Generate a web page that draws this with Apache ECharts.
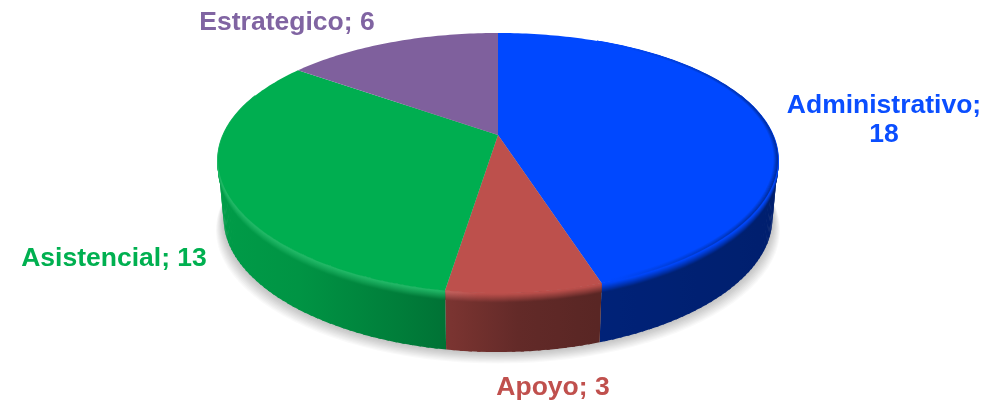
<!DOCTYPE html>
<html><head><meta charset="utf-8">
<script src="https://cdn.jsdelivr.net/npm/echarts@6/dist/echarts.min.js"></script>
<style>html,body{margin:0;padding:0;background:#fff}#c{width:996px;height:401px}</style>
</head><body><div id="c"></div>
<script>
const categories = ['Administrativo', 'Apoyo', 'Asistencial', 'Estrategico'];
const values = [18, 3, 13, 6];
const colors = ['#0048ff', '#bd504c', '#00ae50', '#7f609d'];
const labelColors = ['#0a4eff', '#c0504d', '#00b050', '#8064a2'];
const labelLines = [['Administrativo;', '18'], ['Apoyo; 3'], ['Asistencial; 13'], ['Estrategico; 6']];
const labelAnchors = [[884, 120], [553, 388], [114, 259], [287, 23]];

// projection of the tilted disc
const CX = 498, APEX_Y = 135, BX = 274.9, AY = 124, KX = 0.19, KY = 0.2154, DEPTH = 59, NARROW = 0.02, BEVEL = 9;
const XL = 218, XR = 778;
const shadeStops = [[218,.9],[300,.85],[445,.66],[520,.52],[600,.47],[778,.43]];
const total = values.reduce((a, b) => a + b, 0);
const D = Math.PI / 180;
const LG = echarts.graphic.LinearGradient;

function rim(aDeg, r, h) {
  const u = Math.sin(aDeg * D) * r, v = Math.cos(aDeg * D) * r;
  const x = CX + BX * u / (1 + KX * v), y = APEX_Y - AY * v / (1 + KY * v);
  return [CX + (x - CX) * (1 - NARROW * h), y + DEPTH * h];
}
function span(i) {
  let s = 0; for (let j = 0; j < i; j++) s += values[j];
  return [s / total * 360, (s + values[i]) / total * 360];
}
function rgb(hex) { return [1, 3, 5].map(p => parseInt(hex.substr(p, 2), 16)); }
function css(c) { return 'rgb(' + c.map(v => Math.max(0, Math.min(255, Math.round(v)))).join(',') + ')'; }
function mix(a, b, t) { return a.map((v, i) => v + (b[i] - v) * t); }
function shadeAt(x) {
  for (let i = 1; i < shadeStops.length; i++) {
    if (x <= shadeStops[i][0]) {
      const p = shadeStops[i - 1], q = shadeStops[i];
      return p[1] + (q[1] - p[1]) * Math.max(0, (x - p[0])) / (q[0] - p[0]);
    }
  }
  return shadeStops[shadeStops.length - 1][1];
}
function steps(a0, a1, d) {
  const n = Math.max(1, Math.ceil((a1 - a0) / d)), out = [];
  for (let i = 0; i <= n; i++) out.push(a0 + (a1 - a0) * i / n);
  return out;
}
// horizontal gradient whose colour is a function of screen x
function xGradient(fn) {
  const stops = [];
  for (let n = 0; n <= 28; n++) {
    const x = XL + (XR - XL) * n / 28;
    stops.push({ offset: n / 28, color: css(fn(x)) });
  }
  return new LG(XL, 0, XR, 0, stops, true);
}
// the wall swept along the rim as overlapping quads, so it never folds at the silhouette
function sweep(kids, a0, a1, h0, h1, fill) {
  const sts = steps(a0, a1, 1.5);
  for (let s = 0; s < sts.length - 1; s++) {
    const a = sts[s], b = Math.min(a1, sts[s + 1] + 0.6);
    kids.push({ type: 'polygon', shape: { points: [rim(a, 1, h0), rim(b, 1, h0), rim(b, 1, h1), rim(a, 1, h1)] },
      style: { fill: fill }, silent: true });
  }
}
function rimLine(a0, a1, r, h, width, stroke) {
  return { type: 'polyline', shape: { points: steps(a0, a1, 1).map(a => rim(a, r, h)) },
    style: { fill: null, stroke: stroke, lineWidth: width, lineCap: 'butt', lineJoin: 'round' }, silent: true };
}
function clipRange(a0, a1, lo, hi) {
  const s = Math.max(a0, lo), e = Math.min(a1, hi);
  return s < e ? [s, e] : null;
}

// soft cast shadow: stacked translucent copies of the base outline, each a little larger
function shadowItem(params) {
  if (params.dataIndex !== 0) return { type: 'group', children: [] };
  const kids = [], N = 10;
  for (let k = N; k >= 1; k--) {
    const pts = steps(0, 360, 3).map(a => {
      const p = rim(a, 1, 1);
      return [CX + (p[0] - CX) * (1 + k * 0.0028), p[1] + k * 1.15];
    });
    kids.push({ type: 'polygon', shape: { points: pts }, style: { fill: 'rgba(0,0,0,0.024)' }, silent: true });
  }
  return { type: 'group', children: kids };
}
function wallItem(params) {
  const i = params.dataIndex, [a0, a1] = span(i), base = rgb(colors[i]), kids = [];
  const rg = clipRange(a0, a1, 70, 290);
  if (!rg) return { type: 'group', children: [] };
  const bevelH = BEVEL / DEPTH;
  const wall = x => base.map(v => v * shadeAt(x));
  const hi = x => mix(base, [255, 255, 255], x < 470 ? Math.min(0.13, (470 - x) / 170) : 0);
  const N = 9;
  sweep(kids, rg[0], rg[1], 0, 1, xGradient(wall));
  for (let l = N - 1; l >= 0; l--) {
    kids.push(rimLine(rg[0], rg[1], 1, bevelH * (l + 0.5) / N, 1.8,
      xGradient(x => mix(hi(x), wall(x), Math.pow((l + 0.5) / N, 1.1)))));
  }
  return { type: 'group', children: kids };
}
function topItem(params) {
  const i = params.dataIndex, [a0, a1] = span(i), base = rgb(colors[i]), kids = [];
  const pts = [[CX, APEX_Y]].concat(steps(a0, a1, 1).map(a => rim(a, 1, 0)));
  kids.push({ type: 'polygon', shape: { points: pts }, style: { fill: colors[i] }, silent: true });
  // soft darkening just inside the edge that faces away from the light
  const rg = clipRange(a0, a1, 25, 160);
  if (rg) {
    const N = 5, W = 0.014;
    for (let l = 0; l < N; l++) {
      const t = (l + 1) / N;
      kids.push(rimLine(rg[0], rg[1], 1 - W * (1 - t) - 0.002, 0, 1.3, xGradient(x => {
        const u = Math.max(0, (x - CX) / 280 - 0.4);
        return base.map(v => v * (1 - u * 0.6 * t));
      })));
    }
  }
  return { type: 'group', children: kids };
}
function labelItem(params) {
  const i = params.dataIndex, lines = labelLines[i], at = labelAnchors[i];
  return { type: 'text', x: at[0], y: at[1], silent: true,
    style: { text: lines.join('\n'), fill: labelColors[i], font: 'bold 26.5px "Liberation Sans", Arial, sans-serif',
      align: 'center', verticalAlign: 'middle', lineHeight: 29 } };
}
const seriesData = categories.map((name, i) => ({ name: name, value: values[i] }));
const layer = (fn, z) => ({ type: 'custom', coordinateSystem: 'none', renderItem: fn, data: seriesData, z: z, silent: true, animation: false, clip: false });

const chart = echarts.init(document.getElementById('c'), null, { renderer: 'canvas' });
chart.setOption({
  backgroundColor: '#ffffff',
  animation: false,
  series: [layer(shadowItem, 1), layer(wallItem, 2), layer(topItem, 3), layer(labelItem, 4)]
});
</script></body></html>
